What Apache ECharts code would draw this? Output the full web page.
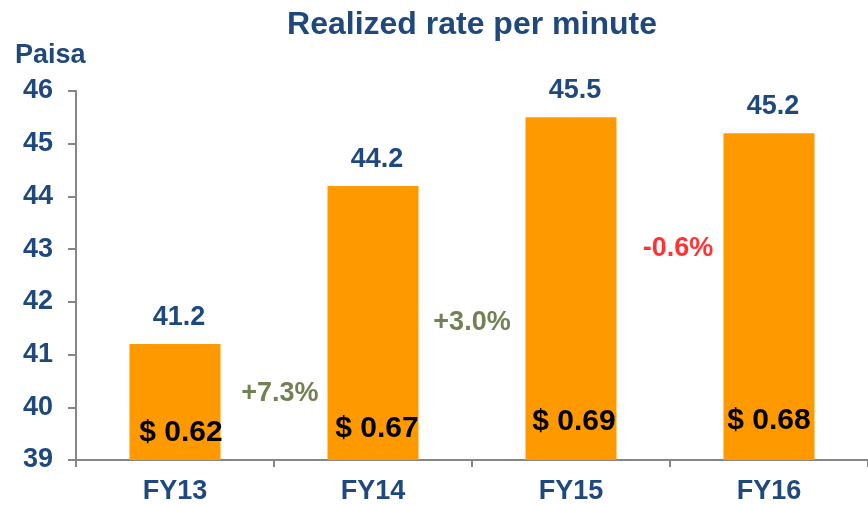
<!DOCTYPE html>
<html>
<head>
<meta charset="utf-8">
<script src="https://cdn.jsdelivr.net/npm/echarts@6/dist/echarts.min.js"></script>
<style>
  html, body { margin: 0; padding: 0; background: #ffffff; }
  #chart { width: 868px; height: 505px; }
</style>
</head>
<body>
<div id="chart"></div>
<script>
// Fiscal years and realized rate (paisa per minute)
const categories = ['FY13', 'FY14', 'FY15', 'FY16'];
const ratePaisa = [41.2, 44.2, 45.5, 45.2];
// Equivalent USD rate per minute
const rateUsd = ['$ 0.62', '$ 0.67', '$ 0.69', '$ 0.68'];
// Year-on-year change between neighbouring years
const growthText = ['+7.3%', '+3.0%', '-0.6%'];
const growthColor = ['#4F6228', '#4F6228', '#FF0000'];
// Y-axis ticks
const yMin = 39, yMax = 46, yStep = 1;

// Label placement (layout only)
const growthAnchorX = [1.03, 2.0, 3.04];        // on a 0..4 category-boundary scale
const growthAnchorY = [40.27, 41.61, 43.02];     // in paisa units
const usdLabelOffset = [[6, -12], [4, -16], [3, -23], [0, -24]];

const BLUE = '#1F497D';
const FONT = '"Liberation Sans", Arial, sans-serif';

const chart = echarts.init(document.getElementById('chart'), null, { renderer: 'canvas' });

chart.setOption({
  animation: false,
  backgroundColor: '#ffffff',
  title: [
    {
      text: 'Realized rate per minute',
      left: 467, top: 4, textAlign: 'center',
      textStyle: { fontFamily: FONT, fontSize: 32, fontWeight: 'bold', color: BLUE }
    },
    {
      text: 'Paisa',
      left: 10, top: 37,
      textStyle: { fontFamily: FONT, fontSize: 27, fontWeight: 'bold', color: BLUE }
    }
  ],
  grid: { left: 76, right: 0, top: 91, bottom: 44, containLabel: false },
  xAxis: [
    {
      type: 'category',
      data: categories,
      boundaryGap: true,
      axisLine: { lineStyle: { color: '#868686', width: 2 } },
      axisTick: { show: true, length: 7, lineStyle: { color: '#868686', width: 2 } },
      axisLabel: { margin: 18, fontFamily: FONT, fontSize: 27, fontWeight: 'bold', color: BLUE }
    },
    {
      type: 'value', min: 0, max: 4, show: false
    }
  ],
  yAxis: {
    type: 'value',
    min: yMin, max: yMax, interval: yStep,
    splitLine: { show: false },
    axisLine: { show: true, lineStyle: { color: '#868686', width: 2 } },
    axisTick: { show: true, inside: false, length: 8, lineStyle: { color: '#868686', width: 2 } },
    axisLabel: { margin: 23, fontFamily: FONT, fontSize: 27, fontWeight: 'bold', color: BLUE }
  },
  series: [
    {
      type: 'bar',
      data: ratePaisa,
      barWidth: 91,
      itemStyle: { color: '#FF9900' },
      label: {
        show: true, position: 'top', distance: 13, offset: [4, 0],
        formatter: p => p.value.toFixed(1),
        fontFamily: FONT, fontSize: 27, fontWeight: 'bold', color: BLUE
      },
      z: 2
    },
    {
      type: 'bar',
      barGap: '-100%',
      barWidth: 91,
      data: ratePaisa.map((v, i) => ({
        value: v,
        label: { offset: usdLabelOffset[i] }
      })),
      itemStyle: { color: 'rgba(0,0,0,0)' },
      label: {
        show: true, position: 'insideBottom', distance: 0,
        formatter: p => rateUsd[p.dataIndex],
        fontFamily: FONT, fontSize: 30, fontWeight: 'bold', color: '#000000'
      },
      silent: true,
      z: 3
    },
    {
      type: 'scatter',
      xAxisIndex: 1,
      symbolSize: 0,
      data: growthText.map((t, i) => ({
        value: [growthAnchorX[i], growthAnchorY[i]],
        label: { color: growthColor[i] }
      })),
      label: {
        show: true, position: 'inside',
        formatter: p => growthText[p.dataIndex],
        fontFamily: FONT, fontSize: 27, fontWeight: 'bold'
      },
      silent: true,
      z: 4
    }
  ]
});
</script>
</body>
</html>
